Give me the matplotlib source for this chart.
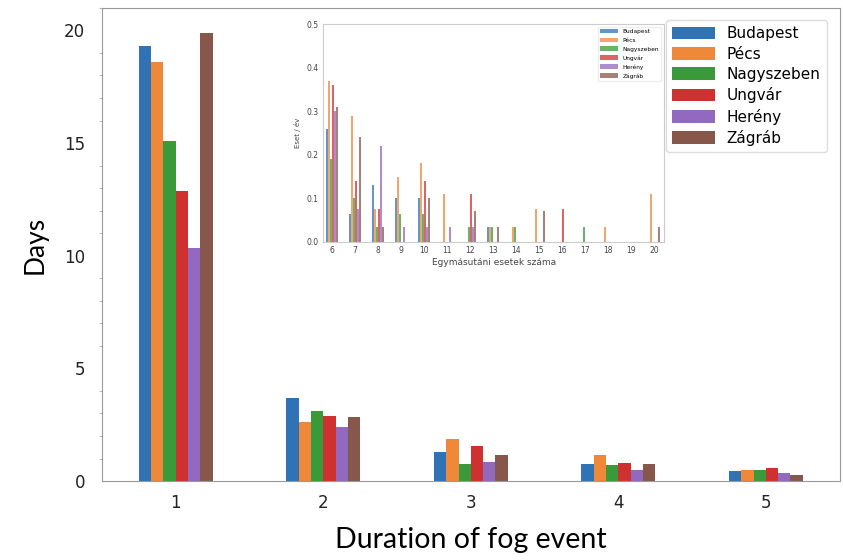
import matplotlib
matplotlib.use("Agg")
import matplotlib.pyplot as plt
import numpy as np
from matplotlib.ticker import MultipleLocator

stations = ["Budapest", "Pécs", "Nagyszeben", "Ungvár", "Herény", "Zágráb"]
colors = ["#2f73b5", "#f0883a", "#3a9a3a", "#cf3030", "#9169be", "#87574c"]

durations = [1, 2, 3, 4, 5]
budapest = [19.3, 3.7, 1.3, 0.75, 0.45]
pecs = [18.6, 2.6, 1.85, 1.15, 0.5]
nagyszeben = [15.1, 3.1, 0.75, 0.7, 0.5]
ungvar = [12.85, 2.9, 1.55, 0.8, 0.6]
hereny = [10.35, 2.4, 0.85, 0.5, 0.35]
zagrab = [19.9, 2.85, 1.15, 0.75, 0.25]
main_values = [budapest, pecs, nagyszeben, ungvar, hereny, zagrab]

inset_x = [6, 7, 8, 9, 10, 11, 12, 13, 14, 15, 16, 17, 18, 19, 20]
in_budapest = [0.26, 0.065, 0.13, 0.10, 0.10, 0, 0, 0.035, 0, 0, 0, 0, 0, 0, 0]
in_pecs = [0.37, 0.29, 0.075, 0.15, 0.18, 0.11, 0, 0.035, 0.035, 0.075, 0, 0, 0.035, 0, 0.11]
in_nagyszeben = [0.19, 0.10, 0.035, 0.065, 0.065, 0, 0.035, 0.035, 0.035, 0, 0, 0.035, 0, 0, 0]
in_ungvar = [0.36, 0.14, 0.075, 0, 0.14, 0, 0.11, 0, 0, 0, 0.075, 0, 0, 0, 0]
in_hereny = [0.30, 0.075, 0.22, 0.035, 0.035, 0.035, 0.035, 0, 0, 0, 0, 0, 0, 0, 0]
in_zagrab = [0.31, 0.24, 0.035, 0, 0.10, 0, 0.07, 0.035, 0, 0.07, 0, 0, 0, 0, 0.035]
inset_values = [in_budapest, in_pecs, in_nagyszeben, in_ungvar, in_hereny, in_zagrab]

fig = plt.figure(figsize=(8.43, 5.6), dpi=100)
ax = fig.add_axes([0.121, 0.141, 0.875, 0.845])

w = 0.5 / 6
x = np.array(durations, dtype=float)
for i, (name, vals, c) in enumerate(zip(stations, main_values, colors)):
    ax.bar(x + (i - 2.5) * w, vals, width=w, color=c, label=name)

ax.set_xlim(0.5, 5.5)
ax.set_ylim(0, 21)
ax.set_xticks(durations)
ax.yaxis.set_major_locator(MultipleLocator(5))
ax.yaxis.set_minor_locator(MultipleLocator(1))
ax.tick_params(axis="both", labelsize=12, colors="#222222", length=0)
ax.tick_params(axis="y", pad=12)
ax.tick_params(axis="x", pad=9)
ax.tick_params(axis="y", which="minor", length=2, color="#aaaaaa")
for s in ax.spines.values():
    s.set_color("#999999")
ax.set_ylabel("Days", fontsize=19, family="Lato", labelpad=12)
ax.set_xlabel("Duration of fog event", fontsize=20.5, family="Lato", labelpad=11)
ax.legend(loc="upper right", fontsize=11, handlelength=2.8, handleheight=0.9,
          borderpad=0.4, labelspacing=0.35, framealpha=1, edgecolor="#dddddd",
          bbox_to_anchor=(0.993, 0.99))

# inset
ai = fig.add_axes([0.383, 0.568, 0.405, 0.389])
wi = 0.085
xi = np.array(inset_x, dtype=float)
for i, (name, vals, c) in enumerate(zip(stations, inset_values, colors)):
    ai.bar(xi + (i - 2.5) * wi, vals, width=wi, color=c, alpha=0.75, label=name)
ai.set_xlim(5.6, 20.45)
ai.set_ylim(0, 0.5)
ai.set_xticks(inset_x)
ai.set_yticks([0.0, 0.1, 0.2, 0.3, 0.4, 0.5])
ai.tick_params(axis="both", labelsize=5.5, length=0, colors="#444444", pad=3)
for s in ai.spines.values():
    s.set_color("#cccccc")
ai.set_xlabel("Egymásutáni esetek száma", fontsize=6.5, color="#444444", labelpad=2)
ai.set_ylabel("Eset / év", fontsize=5, color="#444444", labelpad=4)
leg = ai.legend(loc="upper right", fontsize=4.2, handlelength=3, framealpha=1,
                edgecolor="#eeeeee", labelspacing=0.6)

fig.savefig("out.png", dpi=100)
